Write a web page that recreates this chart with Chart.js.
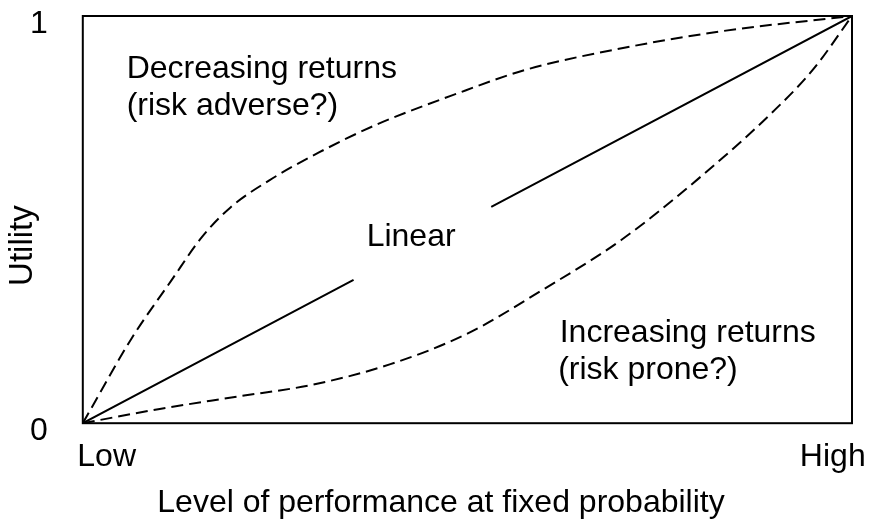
<!DOCTYPE html>
<html>
<head>
<meta charset="utf-8">
<script src="https://cdn.jsdelivr.net/npm/chart.js@4.4.1/dist/chart.umd.min.js"></script>
<style>
  html, body { margin:0; padding:0; background:#fff; }
</style>
</head>
<body>
<canvas id="myChart" width="876" height="525"></canvas>
<script>
// curves, x and y both on a 0..1 scale
let decX = [0, 0.064, 0.115, 0.154, 0.192, 0.243, 0.307, 0.384, 0.48, 0.576, 0.704, 0.832, 1];
let decY = [0, 0.21, 0.35, 0.455, 0.53, 0.597, 0.665, 0.735, 0.805, 0.868, 0.922, 0.963, 1];

let incX = [0, 0.1, 0.2, 0.3, 0.4, 0.5, 0.6, 0.7, 0.8, 0.9, 0.95, 1];
let incY = [0, 0.035, 0.065, 0.095, 0.145, 0.22, 0.33, 0.45, 0.6, 0.77, 0.87, 1];

// straight line, broken where the "Linear" label sits
let linX = [0, 0.352, 0.44, 0.531, 1];
let linY = [0, 0.352, null, 0.531, 1];

let xTickPos = [0.031, 0.975];
let xTickLabels = ['Low', 'High'];
let yTickPos = [0, 1];
let yTickLabels = ['0', '1'];

let notes = [
    { text: 'Decreasing returns', x: 0.057, y: 0.848 },
    { text: '(risk adverse?)', x: 0.057, y: 0.757 },
    { text: 'Linear', x: 0.369, y: 0.435 },
    { text: 'Increasing returns', x: 0.620, y: 0.199 },
    { text: '(risk prone?)', x: 0.618, y: 0.108 }
];

const FONT = '"Liberation Sans", Arial, sans-serif';

function toPoints(xs, ys) {
    return xs.map((x, i) => ({ x: x, y: ys[i] }));
}

const extras = {
    id: 'extras',
    afterDatasetsDraw(chart) {
        let ctx = chart.ctx;
        let a = chart.chartArea;
        let xs = chart.scales.x, ys = chart.scales.y;
        ctx.save();
        ctx.strokeStyle = '#000';
        ctx.lineWidth = 2;
        ctx.strokeRect(a.left, a.top, a.right - a.left, a.bottom - a.top);

        ctx.fillStyle = '#000';
        ctx.font = '32px ' + FONT;
        ctx.textAlign = 'left';
        ctx.textBaseline = 'alphabetic';
        notes.forEach((n) => {
            ctx.fillText(n.text, xs.getPixelForValue(n.x), ys.getPixelForValue(n.y));
        });

        // y axis title, sits a bit below the middle of the frame
        ctx.font = '33px ' + FONT;
        ctx.translate(a.left - 60, (a.top + a.bottom) / 2 + 26);
        ctx.rotate(-Math.PI / 2);
        ctx.textAlign = 'center';
        ctx.textBaseline = 'middle';
        ctx.fillText('Utility', 0, 0);
        ctx.restore();
    }
};

let ctx = document.getElementById('myChart').getContext('2d');
let chart = new Chart(ctx, {
    type: 'line',
    data: {
        datasets: [
            {
                label: 'Decreasing returns',
                data: toPoints(decX, decY),
                borderColor: '#000',
                borderWidth: 2,
                borderDash: [12, 6],
                pointRadius: 0,
                cubicInterpolationMode: 'monotone'
            },
            {
                label: 'Linear',
                data: toPoints(linX, linY),
                borderColor: '#000',
                borderWidth: 2,
                pointRadius: 0,
                spanGaps: false
            },
            {
                label: 'Increasing returns',
                data: toPoints(incX, incY),
                borderColor: '#000',
                borderWidth: 2,
                borderDash: [12, 6],
                pointRadius: 0,
                cubicInterpolationMode: 'monotone'
            }
        ]
    },
    options: {
        responsive: false,
        animation: false,
        layout: { padding: { left: 30, right: 24, top: 16, bottom: 3 } },
        plugins: {
            legend: { display: false },
            tooltip: { enabled: false },
            title: {
                display: true,
                position: 'bottom',
                text: 'Level of performance at fixed probability',
                color: '#000',
                font: { family: FONT, size: 32, weight: 'normal' },
                padding: { top: 7, bottom: 0 }
            }
        },
        scales: {
            x: {
                type: 'linear',
                min: 0,
                max: 1,
                grid: { display: false, drawTicks: false },
                border: { display: false },
                afterBuildTicks: (scale) => { scale.ticks = xTickPos.map((v) => ({ value: v })); },
                afterFit: (scale) => {
                    scale.paddingLeft = 0;
                    scale.paddingRight = 0;
                    scale.height -= scale.options.ticks.padding;
                },
                ticks: {
                    color: '#000',
                    font: { family: FONT, size: 32 },
                    padding: 15,
                    maxRotation: 0,
                    autoSkip: false,
                    callback: (v, i) => xTickLabels[i]
                }
            },
            y: {
                min: 0,
                max: 1,
                grid: { display: false, drawTicks: false },
                border: { display: false },
                afterBuildTicks: (scale) => { scale.ticks = yTickPos.map((v) => ({ value: v })); },
                afterFit: (scale) => {
                    scale.paddingTop = 0;
                    scale.paddingBottom = 0;
                    scale.width -= scale.options.ticks.padding;
                },
                ticks: {
                    color: '#000',
                    font: { family: FONT, size: 32 },
                    padding: 35,
                    labelOffset: 8,
                    autoSkip: false,
                    callback: (v, i) => yTickLabels[i]
                }
            }
        }
    },
    plugins: [extras]
});
</script>
</body>
</html>
